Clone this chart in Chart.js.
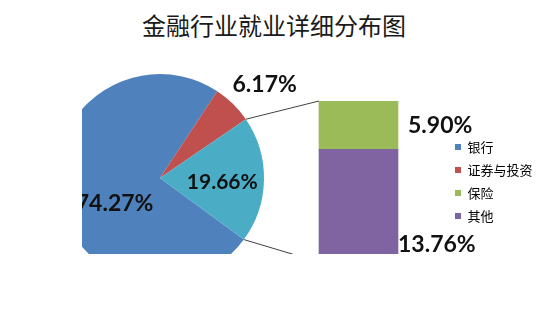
<!DOCTYPE html>
<html>
<head>
<meta charset="utf-8">
<script src="https://cdn.jsdelivr.net/npm/chart.js@4.4.1/dist/chart.umd.min.js"></script>
<style>
  html, body { margin: 0; padding: 0; background: #fff; }
  #wrap { position: relative; width: 548px; height: 320px; overflow: hidden; }
  #wrap canvas { position: absolute; left: 0; top: 0; }
  #title {
    position: absolute; left: 0; top: 12px; width: 548px; text-align: center;
    font: 24px/26px "Noto Sans CJK SC", sans-serif; color: #1a1a1a;
  }
</style>
</head>
<body>
<div id="wrap">
  <div id="title">金融行业就业详细分布图</div>
  <canvas id="pieChart" width="548" height="320"></canvas>
  <canvas id="barChart" width="548" height="320"></canvas>
</div>
<script>
// shares of the finance workforce, in percent
const categories = ['银行', '证券与投资', '保险', '其他'];
const shares = [74.27, 6.17, 5.90, 13.76];
const colors = ['#4F81BD', '#C0504D', '#9BBB59', '#8064A2'];
const mergedLabel = '保险+其他';
const mergedColor = '#4BACC6';

const labelFont = '"Lato", "Liberation Sans", sans-serif';
const plotClip = { left: 82, bottom: 254 };

function clipPlot(chart) {
    const ctx = chart.ctx;
    ctx.save();
    ctx.beginPath();
    ctx.rect(plotClip.left, 0, chart.width - plotClip.left, plotClip.bottom);
    ctx.clip();
}

// Pie labels, placed from each arc's geometry
const pieLabels = {
    id: 'pieLabels',
    beforeDatasetsDraw(chart) {
        clipPlot(chart);
    },
    afterDatasetsDraw(chart) {
        const ctx = chart.ctx;
        const arcs = chart.getDatasetMeta(0).data;
        const values = chart.data.datasets[0].data;
        // [distance as fraction of radius, angle nudge in degrees, font size]
        const place = [[0.5, -19, 23], [1.35, 3.7, 23], [0.6, 3, 21]];
        arcs.forEach((arc, i) => {
            const mid = (arc.startAngle + arc.endAngle) / 2 + place[i][1] * Math.PI / 180;
            const r = arc.outerRadius * place[i][0];
            ctx.font = 'bold ' + place[i][2] + 'px ' + labelFont;
            ctx.fillStyle = '#111';
            ctx.textAlign = 'center';
            ctx.textBaseline = 'middle';
            ctx.fillText(values[i].toFixed(2) + '%', arc.x + Math.cos(mid) * r, arc.y + Math.sin(mid) * r);
        });
        ctx.restore();
    }
};

const pieChart = new Chart(document.getElementById('pieChart'), {
    type: 'pie',
    data: {
        labels: [categories[0], categories[1], mergedLabel],
        datasets: [{
            data: [shares[0], shares[1], shares[2] + shares[3]],
            backgroundColor: [colors[0], colors[1], mergedColor],
            borderWidth: 0
        }]
    },
    options: {
        responsive: false,
        animation: false,
        rotation: 126.3,
        layout: { padding: { left: 56, right: 284, top: 74, bottom: 38 } },
        plugins: {
            legend: { display: false },
            tooltip: { enabled: false }
        }
    },
    plugins: [pieLabels]
});

// Connector lines and bar labels
const barExtras = {
    id: 'barExtras',
    beforeDatasetsDraw(chart) {
        clipPlot(chart);
    },
    afterDatasetsDraw(chart) {
        const ctx = chart.ctx;
        const merged = pieChart.getDatasetMeta(0).data[2];
        const bottomBar = chart.getDatasetMeta(0).data[0];
        const topBar = chart.getDatasetMeta(1).data[0];
        const left = topBar.x - topBar.width / 2;
        const right = topBar.x + topBar.width / 2;

        ctx.strokeStyle = '#404040';
        ctx.lineWidth = 1;
        ctx.beginPath();
        ctx.moveTo(merged.x + Math.cos(merged.startAngle) * merged.outerRadius,
                   merged.y + Math.sin(merged.startAngle) * merged.outerRadius);
        ctx.lineTo(left, topBar.y);
        ctx.moveTo(merged.x + Math.cos(merged.endAngle) * merged.outerRadius,
                   merged.y + Math.sin(merged.endAngle) * merged.outerRadius);
        ctx.lineTo(left, bottomBar.base);
        ctx.stroke();

        ctx.font = 'bold 23px ' + labelFont;
        ctx.fillStyle = '#111';
        ctx.textAlign = 'left';
        ctx.textBaseline = 'middle';
        ctx.fillText(shares[2].toFixed(2) + '%', right + 10, (topBar.y + topBar.base) / 2);
        ctx.fillText(shares[3].toFixed(2) + '%', right, bottomBar.base - 17);
        ctx.restore();
    }
};

const barChart = new Chart(document.getElementById('barChart'), {
    type: 'bar',
    data: {
        labels: [mergedLabel],
        datasets: [
            { label: categories[3], data: [shares[3]], backgroundColor: colors[3], borderWidth: 0, barThickness: 79 },
            { label: categories[2], data: [shares[2]], backgroundColor: colors[2], borderWidth: 0, barThickness: 79 }
        ]
    },
    options: {
        responsive: false,
        animation: false,
        layout: { padding: { left: 272, right: 5.5, top: 101, bottom: 58 } },
        scales: {
            x: { stacked: true, display: false },
            y: { stacked: true, display: false, min: 0, max: shares[2] + shares[3] }
        },
        plugins: {
            legend: {
                position: 'right',
                labels: {
                    boxWidth: 6,
                    boxHeight: 6,
                    padding: 10,
                    color: '#333',
                    font: { family: '"Noto Sans CJK SC", sans-serif', size: 13 },
                    generateLabels: () => categories.map((c, i) => ({
                        text: c,
                        fillStyle: colors[i],
                        strokeStyle: colors[i],
                        lineWidth: 0,
                        hidden: false
                    }))
                }
            },
            tooltip: { enabled: false }
        }
    },
    plugins: [barExtras]
});
</script>
</body>
</html>
